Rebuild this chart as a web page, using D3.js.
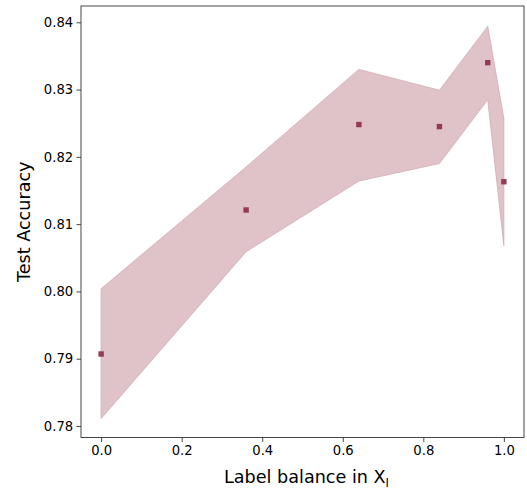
<!DOCTYPE html>
<html><head><meta charset="utf-8">
<script src="https://cdn.jsdelivr.net/npm/d3@7"></script>
<style>body{margin:0;background:#fff}svg{display:block}</style>
</head><body><svg id="c" width="527" height="490"></svg>
<script>
const balance = [0.0, 0.36, 0.64, 0.84, 0.96, 1.0];
const meanAcc = [0.7907, 0.8121, 0.8248, 0.8245, 0.8340, 0.8163];
const upperAcc = [0.8004, 0.8185, 0.8330, 0.8299, 0.8394, 0.8257];
const lowerAcc = [0.7811, 0.8059, 0.8164, 0.8190, 0.8285, 0.8068];
const xTicks = [0.0, 0.2, 0.4, 0.6, 0.8, 1.0];
const yTicks = [0.78, 0.79, 0.80, 0.81, 0.82, 0.83, 0.84];

const FONT = "DejaVu Sans";
const svg = d3.select("#c");
const L = 81, R = 524, T = 6, B = 437.5;
const x = d3.scaleLinear().domain([-0.05, 1.05]).range([L, R]);
const y = d3.scaleLinear().domain([0.77829, 0.84242]).range([B, T]);

const data = balance.map((b, i) => ({b, m: meanAcc[i], u: upperAcc[i], l: lowerAcc[i]}));

svg.append("path").datum(data)
  .attr("d", d3.area().x(d => x(d.b)).y0(d => y(d.l)).y1(d => y(d.u)))
  .attr("fill", "#e0c3c9").attr("stroke", "#d4aab3").attr("stroke-width", 0.8);

svg.selectAll("rect.pt").data(data).enter().append("rect")
  .attr("class", "pt")
  .attr("x", d => x(d.b) - 2.7).attr("y", d => y(d.m) - 2.7)
  .attr("width", 5.4).attr("height", 5.4).attr("fill", "#943a52");

const xa = svg.append("g").attr("transform", `translate(0,${B})`)
  .call(d3.axisBottom(x).tickValues(xTicks).tickFormat(d3.format(".1f")).tickSize(4.5).tickPadding(3.5));
const ya = svg.append("g").attr("transform", `translate(${L},0)`)
  .call(d3.axisLeft(y).tickValues(yTicks).tickFormat(d3.format(".2f")).tickSize(4.5).tickPadding(3.3));
[xa, ya].forEach(a => {
  a.select(".domain").remove();
  a.selectAll("line").attr("stroke", "#333").attr("stroke-width", 0.9);
  a.selectAll("text").attr("fill", "#000").attr("font-family", FONT).attr("font-size", "13.2px");
});

svg.append("rect").attr("x", L).attr("y", T).attr("width", R - L).attr("height", B - T)
  .attr("fill", "none").attr("stroke", "#333").attr("stroke-width", 0.9);

const xl = svg.append("text").attr("x", (L + R) / 2 + 4).attr("y", 483)
  .attr("text-anchor", "middle").attr("font-family", FONT).attr("font-size", 17.6).attr("fill", "#000");
xl.append("tspan").text("Label balance in X");
xl.append("tspan").attr("dy", 4).attr("font-size", 12.3).text("l");

svg.append("text").attr("transform", `translate(30,${(T + B) / 2}) rotate(-90)`)
  .attr("text-anchor", "middle").attr("font-family", FONT).attr("font-size", 17.6).attr("fill", "#000").text("Test Accuracy");
</script></body></html>
